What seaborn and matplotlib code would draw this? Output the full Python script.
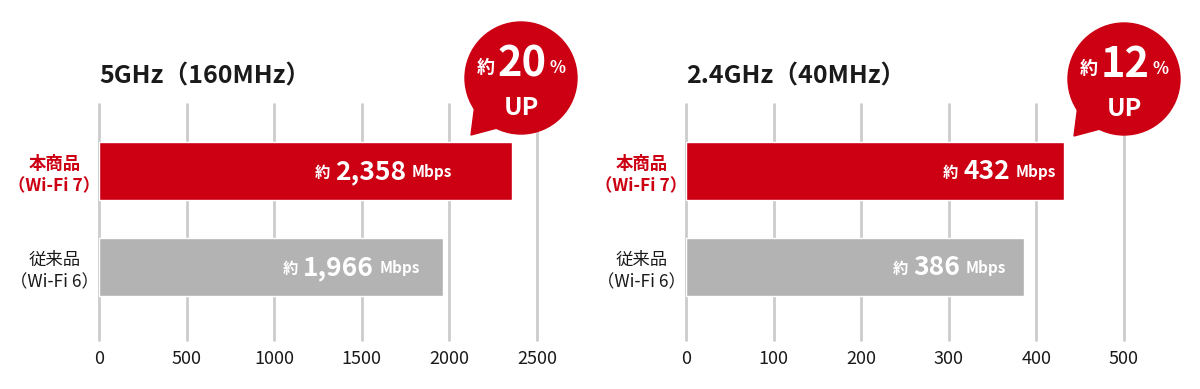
import matplotlib
matplotlib.use('Agg')
import matplotlib.pyplot as plt
import matplotlib.patches as mpatches
import seaborn as sns

# data
bands = ['5GHz（160MHz）', '2.4GHz（40MHz）']
products = ['本商品\n（Wi-Fi 7）', '従来品\n（Wi-Fi 6）']
speed_5g = [2358, 1966]
speed_24g = [432, 386]
uplift = ['20', '12']
x_max = [2500, 500]
x_step = [500, 100]

red = '#cc0012'
grey = '#b3b3b3'
grid_grey = '#cccccc'

sns.set_style('white')
plt.rcParams['font.family'] = ['Noto Sans CJK JP', 'DejaVu Sans']

W, H = 1200, 389
fig = plt.figure(figsize=(W / 100, H / 100), dpi=100)

# label end offsets from bar end, in pixels
label_gap = [[60, 23], [8, 18]]
panel_left = [99, 686]


def px_box(left, top, right, bottom):
    return [left / W, 1 - bottom / H, (right - left) / W, (bottom - top) / H]


renderer = fig.canvas.get_renderer()


def width_px(t):
    return t.get_window_extent(renderer=renderer).width


axes = []
for k, values in enumerate([speed_5g, speed_24g]):
    left = panel_left[k]
    ax = fig.add_axes(px_box(left, 104, left + 438, 340))
    sns.barplot(x=values, y=products, hue=products, palette=[red, grey],
                saturation=1, width=0.6, orient='h', legend=False, ax=ax)
    ax.set_xlim(0, x_max[k])
    ax.set_ylim(1.76, -0.70)
    ax.set_xticks(range(0, x_max[k] + 1, x_step[k]))
    ax.xaxis.grid(True, color=grid_grey, lw=2)
    ax.set_axisbelow(True)
    for line in ax.get_xgridlines():
        line.set_clip_on(False)
    sns.despine(ax=ax, left=True, bottom=True)
    ax.tick_params(axis='both', length=0)
    ax.tick_params(axis='x', pad=7, labelsize=13, labelcolor='#1a1a1a')
    ax.set_xlabel('')
    ax.set_ylabel('')
    ylabels = ax.get_yticklabels()
    for lab in ylabels:
        lab.set_fontsize(12.5)
        lab.set_linespacing(1.3)
        lab.set_horizontalalignment('center')
    ylabels[0].set_color(red)
    ylabels[0].set_fontweight('bold')
    ylabels[1].set_color('#1a1a1a')
    ax.yaxis.set_tick_params(pad=32)

    ax.text(0, 1.0 + 15 / 236, bands[k], transform=ax.transAxes, fontsize=18,
            fontweight='bold', color='#1a1a1a', va='bottom', ha='left')
    axes.append(ax)

# full-figure overlay in pixel coordinates (y downwards)
ov = fig.add_axes([0, 0, 1, 1])
ov.set_xlim(0, W)
ov.set_ylim(H, 0)
ov.axis('off')

# value labels inside the bars: "約 2,358 Mbps"
for k, (ax, values) in enumerate(zip(axes, [speed_5g, speed_24g])):
    for i, v in enumerate(values):
        ex, ey = ax.transData.transform((v, i))
        ey = H - ey
        x = ex - label_gap[k][i]
        t_unit = ov.text(x, ey + 6, 'Mbps', ha='right', va='baseline',
                         color='white', fontsize=11, fontweight='bold', zorder=4)
        x -= width_px(t_unit) + 6
        t_num = ov.text(x, ey + 8, f'{v:,}', ha='right', va='baseline',
                        color='white', fontsize=19, fontweight='bold', zorder=4)
        x -= width_px(t_num) + 5
        ov.text(x, ey + 7, '約', ha='right', va='baseline', color='white',
                fontsize=11, fontweight='bold', zorder=4)

# speech bubbles
bubble_centre = [(521, 78), (1124, 79)]
for k, (cx, cy) in enumerate(bubble_centre):
    ov.add_patch(mpatches.Circle((cx, cy), 56, color=red, zorder=2))
    ov.add_patch(mpatches.Polygon([(cx - 46, cy + 26), (cx - 50, cy + 57),
                                   (cx - 20, cy + 49)], color=red, zorder=2))
    t1 = ov.text(0, 0, '約', fontsize=13, fontweight='bold', color='white')
    t2 = ov.text(0, 0, uplift[k], fontsize=30, fontweight='bold', color='white')
    t3 = ov.text(0, 0, '%', fontsize=12, fontweight='bold', color='white')
    w1, w2, w3 = width_px(t1), width_px(t2), width_px(t3)
    gap = 3
    x0 = cx - (w1 + w2 + w3 + 2 * gap) / 2
    base = cy - 2
    t1.set_position((x0, base - 3))
    t2.set_position((x0 + w1 + gap, base))
    t3.set_position((x0 + w1 + w2 + 2 * gap, base - 3))
    for t in (t1, t2, t3):
        t.set_va('baseline')
        t.set_zorder(3)
    ov.text(cx, cy + 37, 'UP', fontsize=18, fontweight='bold', color='white',
            ha='center', va='baseline', zorder=3)

fig.savefig('out.png', dpi=100)
